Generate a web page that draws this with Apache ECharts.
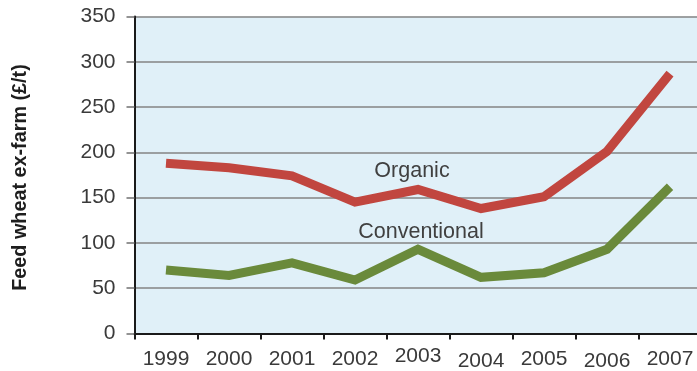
<!DOCTYPE html>
<html>
<head>
<meta charset="utf-8">
<title>Feed wheat ex-farm prices</title>
<script src="https://cdn.jsdelivr.net/npm/echarts@6/dist/echarts.min.js"></script>
<style>
  html, body { margin: 0; padding: 0; background: #ffffff; }
  #chart { width: 697px; height: 371px; }
</style>
</head>
<body>
<div id="chart"></div>
<script>
// Years along the bottom axis
const years = ['1999', '2000', '2001', '2002', '2003', '2004', '2005', '2006', '2007'];

// Feed wheat ex-farm price, £ per tonne
const organic = [188, 183, 174, 145, 159, 138, 151, 201, 287];
const conventional = [70, 64, 78, 59, 93, 62, 67, 93, 162];

// Value axis range and step
const yMin = 0;
const yMax = 350;
const yStep = 50;

// Small vertical nudges on a few year labels (line heights, px)
const labelLineHeights = { '2003': 15, '2004': 25, '2006': 25 };

const FONT = '"Liberation Sans", Arial, Helvetica, sans-serif';

const chart = echarts.init(document.getElementById('chart'), null, { renderer: 'canvas' });

const option = {
  animation: false,
  backgroundColor: '#ffffff',
  grid: {
    left: 134.5,
    right: -4.5,
    top: 16.5,
    bottom: 37.5,
    containLabel: false,
    outerBoundsMode: 'none',
    show: true,
    backgroundColor: '#e0f0f8',
    borderWidth: 0
  },
  xAxis: {
    type: 'category',
    boundaryGap: true,
    data: years.map(y => ({
      value: y,
      textStyle: { lineHeight: labelLineHeights[y] || 21 }
    })),
    axisLine: { show: true, lineStyle: { color: '#1a1a1a', width: 2 } },
    axisTick: { show: true, length: 6, lineStyle: { color: '#1a1a1a', width: 2 } },
    axisLabel: {
      color: '#3a3a3a',
      fontFamily: FONT,
      fontSize: 21,
      margin: 15,
      interval: 0
    },
    splitLine: { show: false }
  },
  yAxis: {
    type: 'value',
    min: yMin,
    max: yMax,
    interval: yStep,
    name: 'Feed wheat ex-farm (£/t)',
    nameLocation: 'middle',
    nameRotate: 90,
    nameGap: 104,
    nameTextStyle: {
      color: '#1e1e1e',
      fontFamily: FONT,
      fontSize: 19.8,
      fontWeight: 'bold',
      padding: [0, 5, 0, 0]
    },
    axisLine: { show: true, lineStyle: { color: '#1a1a1a', width: 2 } },
    axisTick: { show: true, inside: false, length: 8, lineStyle: { color: '#707070', width: 1.5 } },
    axisLabel: {
      color: '#3a3a3a',
      fontFamily: FONT,
      fontSize: 21,
      margin: 19
    },
    splitLine: { show: true, lineStyle: { color: '#858585', width: 1.5 } }
  },
  series: [
    {
      name: 'Organic',
      type: 'line',
      data: organic,
      symbol: 'none',
      lineStyle: { color: '#c1463f', width: 9, cap: 'butt', join: 'miter' },
      z: 3
    },
    {
      name: 'Conventional',
      type: 'line',
      data: conventional,
      symbol: 'none',
      lineStyle: { color: '#6a8a3b', width: 9, cap: 'butt', join: 'miter' },
      z: 3
    }
  ],
  graphic: [
    {
      type: 'text',
      x: 412, y: 171,
      z: 10,
      style: {
        text: 'Organic',
        fill: '#404040',
        font: '21.5px ' + FONT,
        textAlign: 'center',
        textVerticalAlign: 'middle'
      }
    },
    {
      type: 'text',
      x: 421, y: 232,
      z: 10,
      style: {
        text: 'Conventional',
        fill: '#404040',
        font: '21.5px ' + FONT,
        textAlign: 'center',
        textVerticalAlign: 'middle'
      }
    }
  ]
};

chart.setOption(option);
</script>
</body>
</html>
